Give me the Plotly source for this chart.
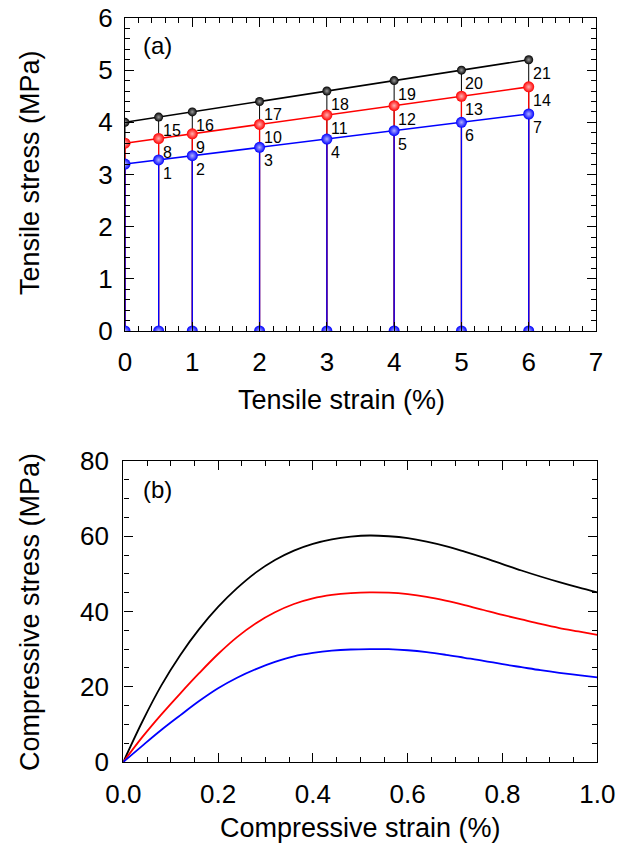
import plotly.graph_objects as go

# ---------------- data ----------------
# (a) tensile
tens_strain = [0, 0.5, 1, 2, 3, 4, 5, 6]
tens_blue = [3.20, 3.28, 3.36, 3.52, 3.68, 3.84, 4.00, 4.16]
tens_red = [3.60, 3.69, 3.78, 3.96, 4.14, 4.32, 4.50, 4.68]
tens_black = [4.00, 4.10, 4.20, 4.40, 4.60, 4.80, 5.00, 5.20]
tens_zero = [0, 0, 0, 0, 0, 0, 0, 0]
lab_blue = ["", "1", "2", "3", "4", "5", "6", "7"]
lab_red = ["", "8", "9", "10", "11", "12", "13", "14"]
lab_black = ["", "15", "16", "17", "18", "19", "20", "21"]

# (b) compressive
comp_strain = [0, 0.04, 0.08, 0.12, 0.16, 0.20, 0.24, 0.28, 0.32, 0.36, 0.40, 0.44, 0.48,
               0.52, 0.56, 0.60, 0.64, 0.68, 0.72, 0.76, 0.80, 0.84, 0.88, 0.92, 0.96, 1.00]
comp_black = [0, 10.7, 20.3, 28.4, 35.3, 41.2, 46.2, 50.4, 53.7, 56.2, 58.0, 59.2, 59.9,
              60.2, 60.0, 59.5, 58.6, 57.4, 55.9, 54.3, 52.6, 50.9, 49.3, 47.8, 46.4, 45.1]
comp_red = [0, 6.6, 12.6, 18.2, 23.6, 28.7, 33.2, 36.9, 39.8, 42.0, 43.5, 44.4, 44.9,
            45.1, 45.0, 44.6, 43.9, 42.9, 41.7, 40.4, 39.1, 37.9, 36.7, 35.6, 34.7, 33.8]
comp_blue = [0, 4.3, 8.5, 12.4, 16.2, 19.6, 22.4, 24.7, 26.6, 28.1, 29.0, 29.6, 29.9,
             30.0, 30.0, 29.7, 29.2, 28.5, 27.7, 26.9, 26.0, 25.2, 24.4, 23.7, 23.1, 22.5]

FONT = "Liberation Sans, Arial, sans-serif"
BLACK, RED, BLUE = "#000000", "#ff0000", "#0000ff"

fig = go.Figure()


def stems(xs, ys, color, width):
    sx, sy = [], []
    for x, y in zip(xs, ys):
        sx += [x, x, None]
        sy += [y, 0, None]
    fig.add_trace(go.Scatter(x=sx, y=sy, mode="lines", line=dict(color=color, width=width),
                             hoverinfo="skip", showlegend=False, xaxis="x", yaxis="y"))


stems(tens_strain, tens_black, BLACK, 1.0)
stems(tens_strain, tens_red, RED, 1.3)
stems(tens_strain, tens_blue, BLUE, 1.3)


def series(ys, labels, color, light, size):
    fig.add_trace(go.Scatter(
        x=tens_strain, y=ys, mode="lines+markers",
        line=dict(color=color, width=1.6),
        marker=dict(size=size, color=color, line=dict(width=0),
                    gradient=dict(type="radial", color=light)),
        showlegend=False, xaxis="x", yaxis="y"))
    for x, y, t in zip(tens_strain, ys, labels):
        if t:
            fig.add_annotation(x=x, y=y, xref="x", yref="y", text=t, showarrow=False,
                               xanchor="left", yanchor="top", xshift=2, yshift=-3,
                               font=dict(family=FONT, size=16, color="black"))


series(tens_black, lab_black, BLACK, "#9a9a9a", 9)
series(tens_red, lab_red, RED, "#ffb0b0", 11)
series(tens_blue, lab_blue, BLUE, "#b0b0ff", 11)

fig.add_trace(go.Scatter(
    x=tens_strain, y=tens_zero, mode="markers",
    marker=dict(size=11, color=BLUE, line=dict(width=0), gradient=dict(type="radial", color="#b0b0ff")),
    showlegend=False, xaxis="x", yaxis="y"))

for ys, c in [(comp_black, BLACK), (comp_red, RED), (comp_blue, BLUE)]:
    fig.add_trace(go.Scatter(x=comp_strain, y=ys, mode="lines",
                             line=dict(color=c, width=1.8, shape="spline", smoothing=1.0),
                             showlegend=False, xaxis="x2", yaxis="y2"))


def axis(domain, rng, dtick, mdtick, anchor, fmt=None, standoff=6):
    d = dict(domain=domain, range=rng, anchor=anchor, tick0=0, dtick=dtick,
             ticks="inside", ticklen=9, tickwidth=1.2, tickcolor="black",
             showline=True, linecolor="black", linewidth=1.4, mirror="allticks",
             showgrid=False, zeroline=False, automargin=False,
             tickfont=dict(family=FONT, size=26, color="black"),
             ticklabelstandoff=standoff,
             minor=dict(tick0=0, dtick=mdtick, ticks="inside", ticklen=5, tickwidth=1.2,
                        tickcolor="black", showgrid=False))
    if fmt:
        d["tickformat"] = fmt
    return d


fig.update_layout(
    width=630, height=846, margin=dict(l=0, r=0, t=0, b=0, pad=0, autoexpand=False),
    paper_bgcolor="white", plot_bgcolor="white",
    font=dict(family=FONT, color="black"),
    xaxis=axis([125 / 630, 596 / 630], [0, 7], 1, 0.2, "y", standoff=8),
    yaxis=axis([1 - 331 / 846, 1 - 18 / 846], [0, 6], 1, 0.2, "x", standoff=6),
    xaxis2=axis([123.3 / 630, 597.3 / 630], [0, 1], 0.2, 0.05, "y2", fmt=".1f", standoff=9),
    yaxis2=axis([1 - 762 / 846, 1 - 461 / 846], [0, 80], 20, 5, "x2", standoff=8),
)

ann = [
    ("Tensile strain (%)", 341, 400, 0),
    ("Tensile stress (MPa)", 30, 173, -90),
    ("Compressive strain (%)", 360, 828, 0),
    ("Compressive stress (MPa)", 30, 612, -90),
]
for t, px, py, ang in ann:
    fig.add_annotation(text=t, x=px / 630, y=1 - py / 846, xref="paper", yref="paper",
                       showarrow=False, textangle=ang, xanchor="center", yanchor="middle",
                       font=dict(family=FONT, size=27, color="black"))
for t, px, py in [("(a)", 157, 46), ("(b)", 157, 490)]:
    fig.add_annotation(text=t, x=px / 630, y=1 - py / 846, xref="paper", yref="paper",
                       showarrow=False, xanchor="center", yanchor="middle",
                       font=dict(family=FONT, size=24, color="black"))

fig.write_html("out.html")
